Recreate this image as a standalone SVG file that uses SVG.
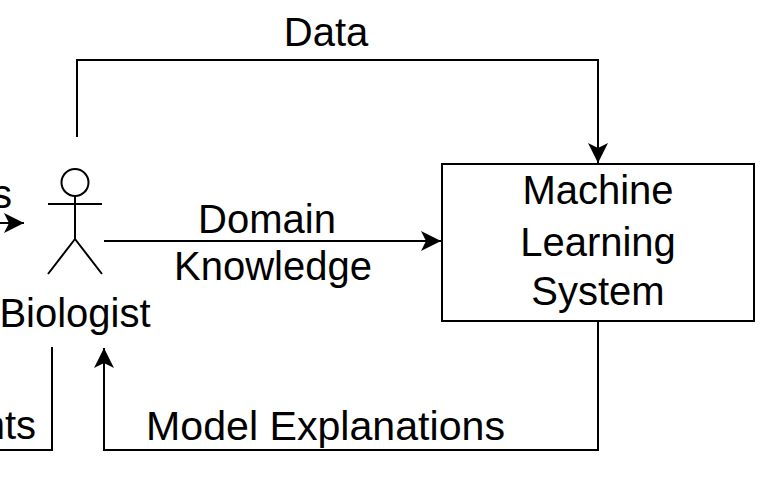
<svg xmlns="http://www.w3.org/2000/svg" width="778" height="502" viewBox="0 0 778 502">
<style>
.t{font-family:"Liberation Sans",Arial,sans-serif;font-size:40px;fill:#000}
.c{text-anchor:middle}
.e{text-anchor:end}
.ln{fill:none;stroke:#000;stroke-width:2}
</style>
<defs>
<marker id="arr" viewBox="-21 -11 22 22" markerWidth="22" markerHeight="22" refX="0" refY="0" orient="auto" markerUnits="userSpaceOnUse">
<path d="M0,0 L-20,-10 L-15,0 L-20,10 Z" fill="#000"/>
</marker>
</defs>
<rect width="778" height="502" fill="#fff"/>
<g id="connectors">
<path class="ln" d="M77,137 V60 H598 V163" marker-end="url(#arr)"/>
<path class="ln" d="M104,241 H441" marker-end="url(#arr)"/>
<path class="ln" d="M0,223 H24" marker-end="url(#arr)"/>
<path class="ln" d="M598,321 V450 H104 V348" marker-end="url(#arr)"/>
<path class="ln" d="M52,347 V450 H0"/>
<text class="t c" x="326" y="46">Data</text>
<text class="t c" x="267" y="233">Domain</text>
<text class="t c" x="273" y="280">Knowledge</text>
<text class="t" x="146" y="440" textLength="359" lengthAdjust="spacingAndGlyphs">Model Explanations</text>
<text class="t e" x="36" y="439">nts</text>
<text class="t e" x="12" y="208">s</text>
</g>
<g id="biologist">
<circle class="ln" cx="75" cy="182.5" r="13.5"/>
<path class="ln" d="M48,204 H102 M75,196 V239 L48,274 M75,239 L102,274"/>
<text class="t c" x="75" y="327">Biologist</text>
</g>
<g id="ml-system">
<rect class="ln" x="442" y="164" width="312" height="157"/>
<text class="t c" x="598" y="204">Machine</text>
<text class="t c" x="598" y="256">Learning</text>
<text class="t c" x="598" y="305">System</text>
</g>
</svg>
